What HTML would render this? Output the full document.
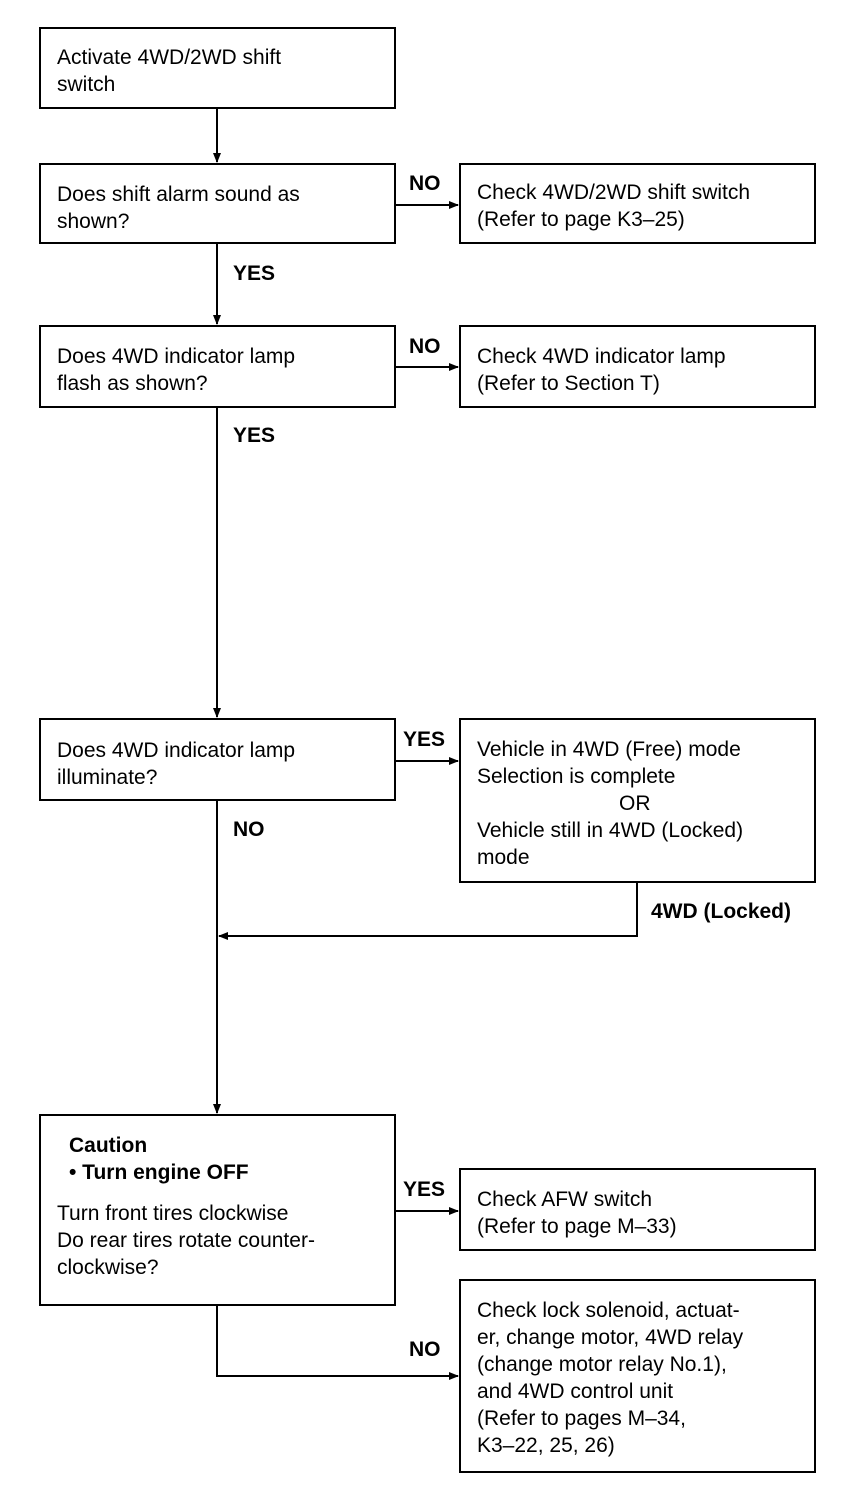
<!DOCTYPE html>
<html><head><style>
body{margin:0;background:#fff;}
.b{position:absolute;border:2px solid #000;box-sizing:border-box;font-family:"Liberation Sans",sans-serif;font-size:21px;line-height:27px;color:#000;padding:12px 16px;}
.l{position:absolute;font-family:"Liberation Sans",sans-serif;font-weight:bold;font-size:21px;color:#000;}
</style></head><body>
<div style="position:relative;width:864px;height:1504px;">
<svg width="864" height="1504" style="position:absolute;left:0;top:0">
<defs><marker id="a" markerWidth="10" markerHeight="8" refX="9" refY="4" orient="auto" markerUnits="userSpaceOnUse"><path d="M0,0 L10,4 L0,8z" fill="#000"/></marker></defs>
<g stroke="#000" stroke-width="2" fill="none">
<line x1="217" y1="108" x2="217" y2="162" marker-end="url(#a)"/>
<line x1="217" y1="243" x2="217" y2="324" marker-end="url(#a)"/>
<line x1="217" y1="407" x2="217" y2="717" marker-end="url(#a)"/>
<line x1="217" y1="800" x2="217" y2="1113" marker-end="url(#a)"/>
<line x1="395" y1="205" x2="458" y2="205" marker-end="url(#a)"/>
<line x1="395" y1="367" x2="458" y2="367" marker-end="url(#a)"/>
<line x1="395" y1="761" x2="458" y2="761" marker-end="url(#a)"/>
<polyline points="637,882 637,936 219,936" marker-end="url(#a)"/>
<line x1="395" y1="1211" x2="458" y2="1211" marker-end="url(#a)"/>
<polyline points="217,1305 217,1376 458,1376" marker-end="url(#a)"/>
</g></svg>
<div class="b" style="left:39px;top:27px;width:357px;height:82px;padding-top:15px">Activate 4WD/2WD shift<br>switch</div>
<div class="b" style="left:39px;top:163px;width:357px;height:81px;padding-top:16px">Does shift alarm sound as<br>shown?</div>
<div class="b" style="left:459px;top:163px;width:357px;height:81px;padding-top:14px">Check 4WD/2WD shift switch<br>(Refer to page K3–25)</div>
<div class="b" style="left:39px;top:325px;width:357px;height:83px;padding-top:16px">Does 4WD indicator lamp<br>flash as shown?</div>
<div class="b" style="left:459px;top:325px;width:357px;height:83px;padding-top:16px">Check 4WD indicator lamp<br>(Refer to Section T)</div>
<div class="b" style="left:39px;top:718px;width:357px;height:83px;padding-top:17px">Does 4WD indicator lamp<br>illuminate?</div>
<div class="b" style="left:459px;top:718px;width:357px;height:165px;padding-top:16px">Vehicle in 4WD (Free) mode<br>Selection is complete<br><span style="padding-left:142px">OR</span><br>Vehicle still in 4WD (Locked)<br>mode</div>
<div class="b" style="left:39px;top:1114px;width:357px;height:192px;padding-top:16px"><b style="padding-left:12px">Caution</b><br><b style="padding-left:12px">• Turn engine OFF</b><br><div style="height:14px"></div>Turn front tires clockwise<br>Do rear tires rotate counter-<br>clockwise?</div>
<div class="b" style="left:459px;top:1168px;width:357px;height:83px;padding-top:16px">Check AFW switch<br>(Refer to page M–33)</div>
<div class="b" style="left:459px;top:1279px;width:357px;height:194px;padding-top:16px">Check lock solenoid, actuat-<br>er, change motor, 4WD relay<br>(change motor relay No.1),<br>and 4WD control unit<br>(Refer to pages M–34,<br>K3–22, 25, 26)</div>
<div class="l" style="left:409px;top:172px">NO</div>
<div class="l" style="left:409px;top:335px">NO</div>
<div class="l" style="left:233px;top:262px">YES</div>
<div class="l" style="left:233px;top:424px">YES</div>
<div class="l" style="left:403px;top:728px">YES</div>
<div class="l" style="left:233px;top:818px">NO</div>
<div class="l" style="left:651px;top:900px">4WD (Locked)</div>
<div class="l" style="left:403px;top:1178px">YES</div>
<div class="l" style="left:409px;top:1338px">NO</div>
</div>
</body></html>
